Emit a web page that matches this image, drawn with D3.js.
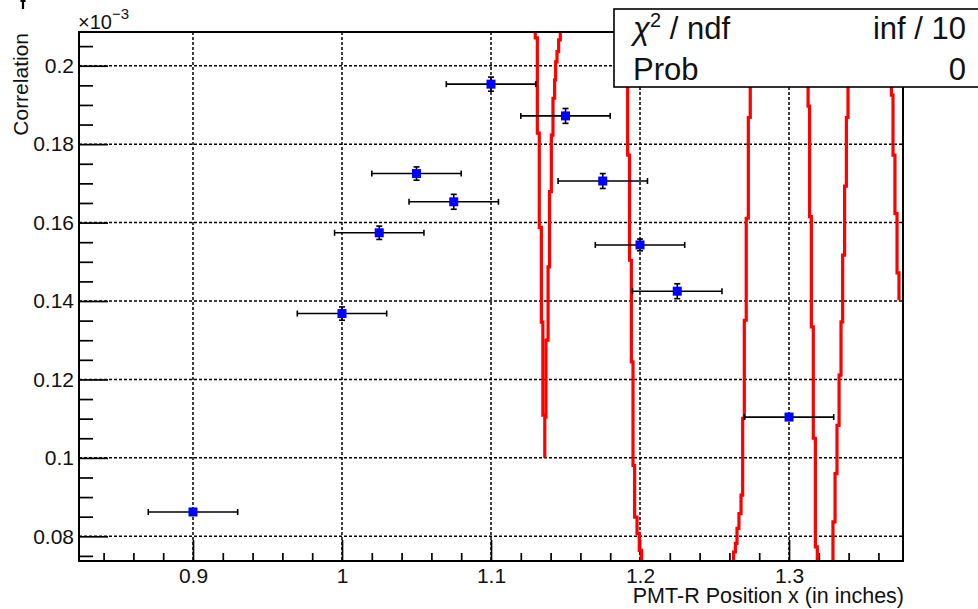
<!DOCTYPE html>
<html lang="en">
<head>
<meta charset="utf-8" />
<style>
  body { margin: 0; background: #fff; }
  svg { display: block; font-family: "Liberation Sans", Arial, Helvetica, sans-serif; }
</style>
</head>
<body>
<svg width="978" height="609"></svg>
<script src="https://d3js.org/d3.v7.min.js"></script>
<script>
// measured points (correlation in units of 1e-3)
var xPos = [0.9, 1.0, 1.025, 1.05, 1.075, 1.1, 1.15, 1.175, 1.2, 1.225, 1.3];
var corr = [0.0862, 0.1368, 0.1574, 0.1725, 0.1653, 0.1953, 0.1872, 0.1706, 0.1543, 0.1425, 0.1104];
var xErr = [0.03, 0.03, 0.03, 0.03, 0.03, 0.03, 0.03, 0.03, 0.03, 0.03, 0.03];
var yErr = [0.0006, 0.0017, 0.0017, 0.0017, 0.0019, 0.0018, 0.0019, 0.0019, 0.0015, 0.0019, 0.0006];

// fit function branches: run x positions and y break points (run i spans y[i]..y[i+1])
var fitA_x = [1.1297, 1.1311, 1.1324, 1.1338, 1.1348, 1.1361];
var fitA_y = [0.211, 0.2071, 0.1828, 0.1588, 0.1346, 0.1109, 0.1];
var fitB_x = [1.1465, 1.1454, 1.1443, 1.1434, 1.1427, 1.1416, 1.1405, 1.1393, 1.1383, 1.1369];
var fitB_y = [0.211, 0.2066, 0.2036, 0.2010, 0.1964, 0.1917, 0.1823, 0.1679, 0.1487, 0.1300, 0.1100];
var fitC_x = [1.1917, 1.1930, 1.1942, 1.1953, 1.1964, 1.1980, 1.1995, 1.2011];
var fitC_y = [0.211, 0.1772, 0.1504, 0.1245, 0.0981, 0.0849, 0.0807, 0.0764, 0.072];
var fitD_x = [1.2740, 1.2727, 1.2713, 1.2700, 1.2689, 1.2678, 1.2664, 1.2651, 1.2640, 1.2628];
var fitD_y = [0.211, 0.1868, 0.1611, 0.1351, 0.1101, 0.0905, 0.0858, 0.0820, 0.0782, 0.0760, 0.072];
var fitE_x = [1.3128, 1.3138, 1.3150, 1.3163, 1.3177, 1.3190];
var fitE_y = [0.211, 0.1897, 0.1615, 0.1334, 0.1050, 0.0773, 0.072];
var fitF_x = [1.3396, 1.3385, 1.3373, 1.3360, 1.3349, 1.3336, 1.3322, 1.3309, 1.3295];
var fitF_y = [0.211, 0.1868, 0.1693, 0.1517, 0.1347, 0.1211, 0.1083, 0.0960, 0.0837, 0.072];
var fitG_x = [1.3687, 1.3698, 1.3711, 1.3725, 1.3738];
var fitG_y = [0.211, 0.1925, 0.1772, 0.1623, 0.1472, 0.1402];

var xTicks = [0.9, 1.0, 1.1, 1.2, 1.3];
var xTickLabels = ["0.9", "1", "1.1", "1.2", "1.3"];
var yTicks = [0.08, 0.1, 0.12, 0.14, 0.16, 0.18, 0.2];
var yTickLabels = ["0.08", "0.1", "0.12", "0.14", "0.16", "0.18", "0.2"];

var statRows = [["\u03c7", "inf / 10"], ["Prob", "0"]];

(function () {
  var svg = d3.select("svg");
  var fl = 79, fr = 903, ft = 32, fb = 561;

  var x = d3.scaleLinear().domain([0.8235, 1.3765]).range([fl, fr]);
  var y = d3.scaleLinear().domain([0.0737, 0.2086]).range([fb, ft]);

  svg.append("defs").append("clipPath").attr("id", "frame")
    .append("rect").attr("x", fl).attr("y", ft)
    .attr("width", fr - fl).attr("height", fb - ft);

  // grid
  var grid = svg.append("g").attr("stroke", "#000").attr("stroke-width", 1.5)
    .attr("stroke-dasharray", "3,2");
  grid.selectAll(".gx").data(xTicks).enter().append("line")
    .attr("x1", d => x(d)).attr("x2", d => x(d)).attr("y1", ft).attr("y2", fb);
  grid.selectAll(".gy").data(yTicks).enter().append("line")
    .attr("y1", d => y(d)).attr("y2", d => y(d)).attr("x1", fl).attr("x2", fr);

  // minor ticks
  var xMinor = d3.range(0.84, 1.38, 0.02).filter(v => Math.abs(v * 10 - Math.round(v * 10)) > 1e-6);
  var yMinor = d3.range(0.075, 0.21, 0.005).filter(v => Math.abs(v * 50 - Math.round(v * 50)) > 1e-6);

  var xAxisMinor = svg.append("g").attr("transform", "translate(0," + fb + ")")
    .call(d3.axisBottom(x).tickValues(xMinor).tickSize(-8).tickFormat(""));
  var yAxisMinor = svg.append("g").attr("transform", "translate(" + fl + ",0)")
    .call(d3.axisLeft(y).tickValues(yMinor).tickSize(-14).tickFormat(""));

  var xAxis = svg.append("g").attr("transform", "translate(0," + fb + ")")
    .call(d3.axisBottom(x).tickValues(xTicks).tickSize(-21).tickPadding(7)
      .tickFormat((d, i) => xTickLabels[i]));
  var yAxis = svg.append("g").attr("transform", "translate(" + fl + ",0)")
    .call(d3.axisLeft(y).tickValues(yTicks).tickSize(-29).tickPadding(5)
      .tickFormat((d, i) => yTickLabels[i]));

  [xAxisMinor, yAxisMinor, xAxis, yAxis].forEach(function (g) {
    g.select(".domain").remove();
    g.selectAll(".tick line").attr("stroke", "#000").attr("stroke-width", 1.7);
    g.selectAll("text").attr("font-size", 21).attr("fill", "#111")
      .attr("font-family", "'Liberation Sans', Arial, sans-serif");
  });

  // fit curves
  var line = d3.line().x(d => x(d[0])).y(d => y(d[1]));
  var fits = [[fitA_x, fitA_y], [fitB_x, fitB_y], [fitC_x, fitC_y], [fitD_x, fitD_y],
    [fitE_x, fitE_y], [fitF_x, fitF_y], [fitG_x, fitG_y]];
  var fitG = svg.append("g").attr("clip-path", "url(#frame)");
  fits.forEach(function (f) {
    var pts = [];
    f[0].forEach(function (xv, i) {
      pts.push([xv, f[1][i]]);
      pts.push([xv, f[1][i + 1]]);
    });
    fitG.append("path").attr("d", line(pts)).attr("fill", "none")
      .attr("stroke", "#ff0000").attr("stroke-width", 3.2);
  });

  // error bars and markers
  var pts = xPos.map((v, i) => ({ x: v, y: corr[i], ex: xErr[i], ey: yErr[i] }));
  var eb = svg.append("g").attr("stroke", "#000").attr("stroke-width", 1.6);
  pts.forEach(function (p) {
    var cx = x(p.x), cy = y(p.y);
    var x0 = x(p.x - p.ex), x1 = x(p.x + p.ex);
    var y0 = y(p.y - p.ey), y1 = y(p.y + p.ey);
    eb.append("line").attr("x1", x0).attr("x2", x1).attr("y1", cy).attr("y2", cy);
    eb.append("line").attr("x1", x0).attr("x2", x0).attr("y1", cy - 3).attr("y2", cy + 3);
    eb.append("line").attr("x1", x1).attr("x2", x1).attr("y1", cy - 3).attr("y2", cy + 3);
    eb.append("line").attr("x1", cx).attr("x2", cx).attr("y1", y0).attr("y2", y1);
    eb.append("line").attr("x1", cx - 3).attr("x2", cx + 3).attr("y1", y0).attr("y2", y0);
    eb.append("line").attr("x1", cx - 3).attr("x2", cx + 3).attr("y1", y1).attr("y2", y1);
  });
  svg.append("g").selectAll("rect").data(pts).enter().append("rect")
    .attr("x", d => x(d.x) - 4.5).attr("y", d => y(d.y) - 4.5)
    .attr("width", 9).attr("height", 9).attr("fill", "#0000ff");

  // frame
  svg.append("rect").attr("x", fl).attr("y", ft)
    .attr("width", fr - fl).attr("height", fb - ft)
    .attr("fill", "none").attr("stroke", "#000").attr("stroke-width", 2);

  // exponent label
  var expo = svg.append("text").attr("x", 78).attr("y", 29).attr("font-size", 20).attr("fill", "#111");
  expo.append("tspan").text("\u00d710");
  expo.append("tspan").attr("dy", -10).attr("font-size", 15).text("\u22123");

  // axis titles
  svg.append("text").attr("transform", "translate(28," + (ft + 1) + ") rotate(-90)")
    .attr("text-anchor", "end").attr("font-size", 21).attr("fill", "#111").text("Correlation");
  svg.append("text").attr("x", 904).attr("y", 603).attr("text-anchor", "end")
    .attr("font-size", 21.5).attr("fill", "#111").text("PMT-R Position x (in inches)");

  // stray mark of a clipped title
  svg.append("path").attr("d", "M20.5,0.8H25.5M23,0V9").attr("stroke", "#000").attr("stroke-width", 2.2);

  // stats box
  var box = svg.append("g");
  box.append("rect").attr("x", 614).attr("y", 9).attr("width", 380).attr("height", 78)
    .attr("fill", "#fff").attr("stroke", "#000").attr("stroke-width", 1.6);
  var rowY = [39, 80];
  statRows.forEach(function (r, i) {
    var t = box.append("text").attr("x", 633).attr("y", rowY[i]).attr("font-size", 31).attr("fill", "#111");
    if (i === 0) {
      t.append("tspan").attr("font-style", "italic").text(r[0]);
      t.append("tspan").attr("dy", -12).attr("font-size", 20).text("2");
      t.append("tspan").attr("dy", 12).text(" / ndf");
    } else {
      t.text(r[0]);
    }
    box.append("text").attr("x", 966).attr("y", rowY[i]).attr("text-anchor", "end")
      .attr("font-size", 31).attr("fill", "#111").text(r[1]);
  });
})();
</script>
</body>
</html>
